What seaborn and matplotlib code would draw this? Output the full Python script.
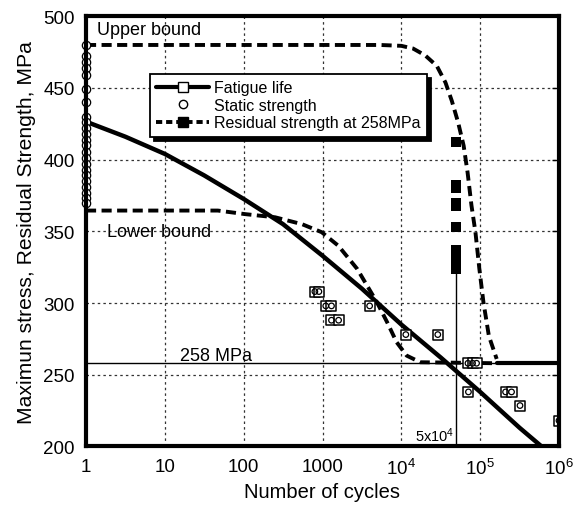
import numpy as np
import pandas as pd
import matplotlib
matplotlib.use("Agg")
import matplotlib.pyplot as plt
import seaborn as sns
from matplotlib.lines import Line2D
from matplotlib.ticker import FixedLocator, FixedFormatter, NullLocator

# ---------------- data ----------------
# Fatigue life (S-N) curve
fatigue_cycles = [1, 3.16, 10, 31.6, 100, 316, 1000, 3160, 1e4, 3.16e4, 1e5, 3.16e5, 6.0e5]
fatigue_stress = [426.5, 416, 404, 389, 372.6, 355, 333, 310, 285, 262, 238, 213, 200]

# Fatigue test data points
test_cycles = [800, 900, 1100, 1300, 1300, 1600, 3960, 1.14e4, 2.9e4,
               7.0e4, 8.0e4, 9.0e4, 7.1e4, 2.1e5, 2.5e5, 3.2e5, 1e6]
test_stress = [308, 308, 298, 298, 288, 288, 298, 278, 278,
               258, 258, 258, 238, 238, 238, 228.5, 218]

# Static strength (at N = 1)
static_cycles = [1] * 23
static_stress = [480, 472, 468, 464, 459, 449.4, 440.4, 430, 426, 422, 418, 414,
                 410, 405, 401, 397, 393, 389, 385, 381, 377, 373.5, 370]

# Residual strength measured at 5x10^4 cycles
resid_cycles = [5e4] * 10
resid_stress = [412, 382.3, 380.4, 369.5, 367.5, 353, 337, 333, 328, 324]

# Upper bound residual strength curve
upper_cycles = [1, 5400, 1e4, 1.41e4, 2.0e4, 2.82e4, 3.63e4, 4.37e4, 5.25e4,
                6.17e4, 6.92e4, 7.76e4, 8.71e4, 9.77e4, 1.1e5, 1.29e5, 1.62e5]
upper_stress = [480, 480, 479.4, 477.5, 472.8, 465.4, 453.8, 441, 426,
                409.8, 391.2, 368, 349.4, 323.8, 300.6, 277, 261]

# Lower bound residual strength curve
lower_cycles = [1, 47, 105, 251, 550, 977, 1585, 2754, 3467, 4898, 6607,
                8710, 1.17e4, 1.74e4, 1.62e5]
lower_stress = [364.5, 364.5, 362, 359.8, 355, 349.4, 340, 323.8, 314.5, 300.6, 286.6,
                272.7, 263.3, 258.7, 258]

# Residual strength level
level_cycles = [1.62e5, 1e6]
level_stress = [258, 258]

x_ticks = [1, 10, 100, 1000, 1e4, 1e5, 1e6]
x_ticklabels = ["1", "10", "100", "1000", r"$\mathregular{10^4}$",
                r"$\mathregular{10^5}$", r"$\mathregular{10^6}$"]
y_ticks = [200, 250, 300, 350, 400, 450, 500]

# ---------------- style ----------------
sns.set_theme(style="white")
plt.rcParams["font.family"] = ["Liberation Sans", "DejaVu Sans"]
plt.rcParams["mathtext.fontset"] = "custom"
plt.rcParams["mathtext.rm"] = "Liberation Sans"
plt.rcParams["mathtext.it"] = "Liberation Sans:italic"
plt.rcParams["text.color"] = "black"
plt.rcParams["axes.labelcolor"] = "black"
plt.rcParams["xtick.color"] = "black"
plt.rcParams["ytick.color"] = "black"

fig = plt.figure(figsize=(5.78, 5.06), dpi=100)
ax = fig.add_axes([86 / 578, 1 - 447.4 / 506, (559 - 86) / 578, (447.4 - 17.3) / 506])
ax.set_xscale("log")
ax.set_xlim(1, 1e6)
ax.set_ylim(200, 500)

# grid
for xv in x_ticks[1:-1]:
    ax.axvline(xv, color="#333333", lw=0.9, ls=(0, (2, 2.5)), zorder=0)
for yv in y_ticks[1:-1]:
    ax.axhline(yv, color="#333333", lw=0.9, ls=(0, (2, 2.5)), zorder=0)

# thin reference lines
ax.axhline(258, color="black", lw=1.0, zorder=1)
ax.plot([5e4, 5e4], [200, min(resid_stress)], color="black", lw=1.0, zorder=1)

dash = (0, (2.6, 1.4))
sns.lineplot(x=upper_cycles, y=upper_stress, ax=ax, color="black", lw=2.8,
             linestyle=dash, sort=False, estimator=None, zorder=3)
sns.lineplot(x=lower_cycles, y=lower_stress, ax=ax, color="black", lw=2.8,
             linestyle=dash, sort=False, estimator=None, zorder=3)
sns.lineplot(x=level_cycles, y=level_stress, ax=ax, color="black", lw=3.0,
             sort=False, estimator=None, zorder=3)
sns.lineplot(x=fatigue_cycles, y=fatigue_stress, ax=ax, color="black", lw=3.2,
             sort=False, estimator=None, zorder=4)

sns.scatterplot(x=test_cycles, y=test_stress, ax=ax, marker="s", s=55,
                facecolor="white", edgecolor="black", linewidth=1.1, zorder=5)
sns.scatterplot(x=test_cycles, y=test_stress, ax=ax, marker="o", s=16,
                facecolor="none", edgecolor="black", linewidth=0.9, zorder=6)
sns.scatterplot(x=static_cycles, y=static_stress, ax=ax, marker="o", s=36,
                facecolor="white", edgecolor="black", linewidth=0.9, zorder=6,
                clip_on=False)
sns.scatterplot(x=resid_cycles, y=resid_stress, ax=ax, marker="s", s=60,
                color="black", edgecolor="black", linewidth=0, zorder=6)

# texts
ax.text(1.38, 491, "Upper bound", fontsize=13, va="center", ha="left")
ax.text(1.85, 350, "Lower bound", fontsize=13, va="center", ha="left")
ax.text(15.6, 263.5, "258 MPa", fontsize=13, va="center", ha="left")
ax.text(4.7e4, 208, r"5x10$^{4}$", fontsize=10.5, va="center", ha="right")

# axes
ax.xaxis.set_major_locator(FixedLocator(x_ticks))
ax.xaxis.set_major_formatter(FixedFormatter(x_ticklabels))
ax.xaxis.set_minor_locator(NullLocator())
ax.set_yticks(y_ticks)
ax.tick_params(axis="both", which="major", direction="in", length=5, width=1,
               labelsize=13.5, color="black", labelcolor="black", pad=8,
               top=False, right=True)
for sp in ax.spines.values():
    sp.set_linewidth(3)
    sp.set_color("black")
    sp.set_zorder(10)
ax.set_xlabel("Number of cycles", fontsize=14.5, labelpad=3)
ax.set_ylabel("Maximun stress, Residual Strength, MPa", fontsize=15.2, labelpad=5)

# legend
handles = [
    Line2D([], [], color="black", lw=3, marker="s", markersize=7,
           markerfacecolor="white", markeredgecolor="black"),
    Line2D([], [], color="none", marker="o", markersize=6,
           markerfacecolor="white", markeredgecolor="black"),
    Line2D([], [], color="black", lw=2.8, ls=(0, (1.6, 1.0)), marker="s",
           markersize=7, markerfacecolor="black", markeredgecolor="black"),
]
labels = ["Fatigue life", "Static strength", "Residual strength at 258MPa"]
leg = ax.legend(handles, labels, loc="upper left", bbox_to_anchor=(0.135, 0.866),
                borderaxespad=0, fontsize=11.5, frameon=True, fancybox=False,
                shadow={"color": "black", "alpha": 1.0, "ox": 3, "oy": -3},
                handlelength=3.3, handletextpad=0.3, labelspacing=0.15,
                borderpad=0.4, framealpha=1)
leg.get_frame().set_edgecolor("black")
leg.get_frame().set_linewidth(1.3)
leg.set_zorder(8)
for t in leg.get_texts():
    t.set_color("black")

fig.savefig("out.png", dpi=100)
